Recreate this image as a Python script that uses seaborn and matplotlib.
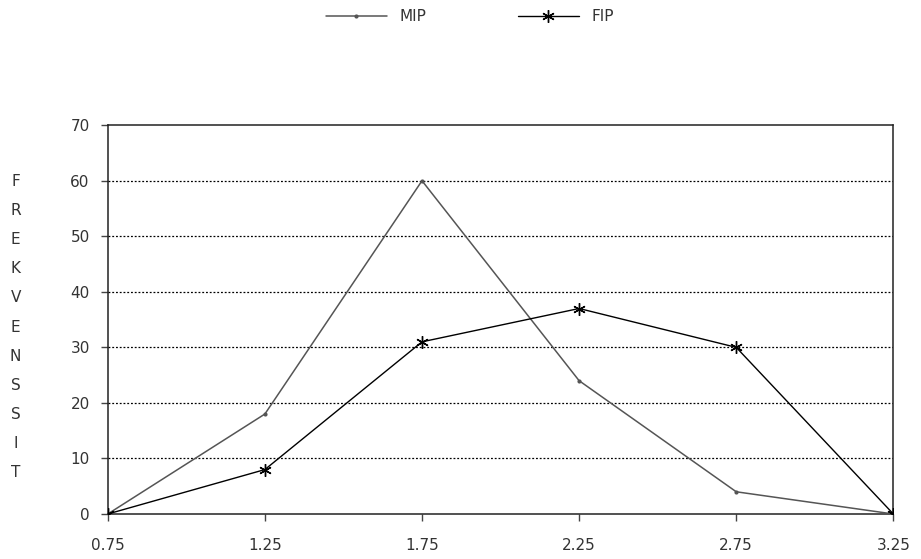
import numpy as np
import pandas as pd
import seaborn as sns
import matplotlib.pyplot as plt

# data
x_vals = [0.75, 1.25, 1.75, 2.25, 2.75, 3.25]
mip = [0, 18, 60, 24, 4, 0]
fip = [0, 8, 31, 37, 30, 0]
y_label = "FREKVENSSIT"

sns.set_style("white")
plt.rcParams['font.family'] = ['DejaVu Sans']

fig = plt.figure(figsize=(9.21, 5.59), dpi=100)
ax = fig.add_axes([0.117, 0.0805, 0.853, 0.6955])

# gridlines first so the lines sit on top
for yy in range(10, 70, 10):
    ax.axhline(yy, color='black', linestyle=(0, (1.5, 1.5)), linewidth=0.9, zorder=1)

sns.lineplot(x=x_vals, y=mip, ax=ax, color='#555555', linewidth=1.1,
             marker='o', markersize=3, markeredgewidth=0, label='MIP', zorder=3)
sns.lineplot(x=x_vals, y=fip, ax=ax, color='black', linewidth=1.0,
             marker=(6, 2, 0), markersize=9, markeredgewidth=1.0,
             markeredgecolor='black', label='FIP', zorder=3)

ax.set_xlim(0.75, 3.25)
ax.set_ylim(0, 70)
ax.set_xticks(x_vals)
ax.set_xticklabels([f"{v:.2f}" for v in x_vals])
ax.set_yticks(range(0, 80, 10))
ax.tick_params(axis='x', pad=12)
ax.tick_params(axis='both', direction='out', length=5, width=1, color='#444444',
               labelsize=11, labelcolor='#333333', left=True, bottom=True)
ax.tick_params(axis='y', pad=8)
for side in ['top', 'bottom', 'left', 'right']:
    ax.spines[side].set_visible(True)
    ax.spines[side].set_color('#222222')
    ax.spines[side].set_linewidth(1.1)

# stacked vertical label
fig.text(0.017, 0.415, "\n".join(y_label), ha='center', va='center',
         fontsize=11, color='#333333', linespacing=2.18)

leg = ax.legend(loc='center', bbox_to_anchor=(0.51, 0.97),
                bbox_transform=fig.transFigure, ncol=2,
                frameon=False, fontsize=11, handlelength=4, columnspacing=6,
                handletextpad=0.8)
for t in leg.get_texts():
    t.set_color('#333333')

fig.savefig('out.png', dpi=100)
